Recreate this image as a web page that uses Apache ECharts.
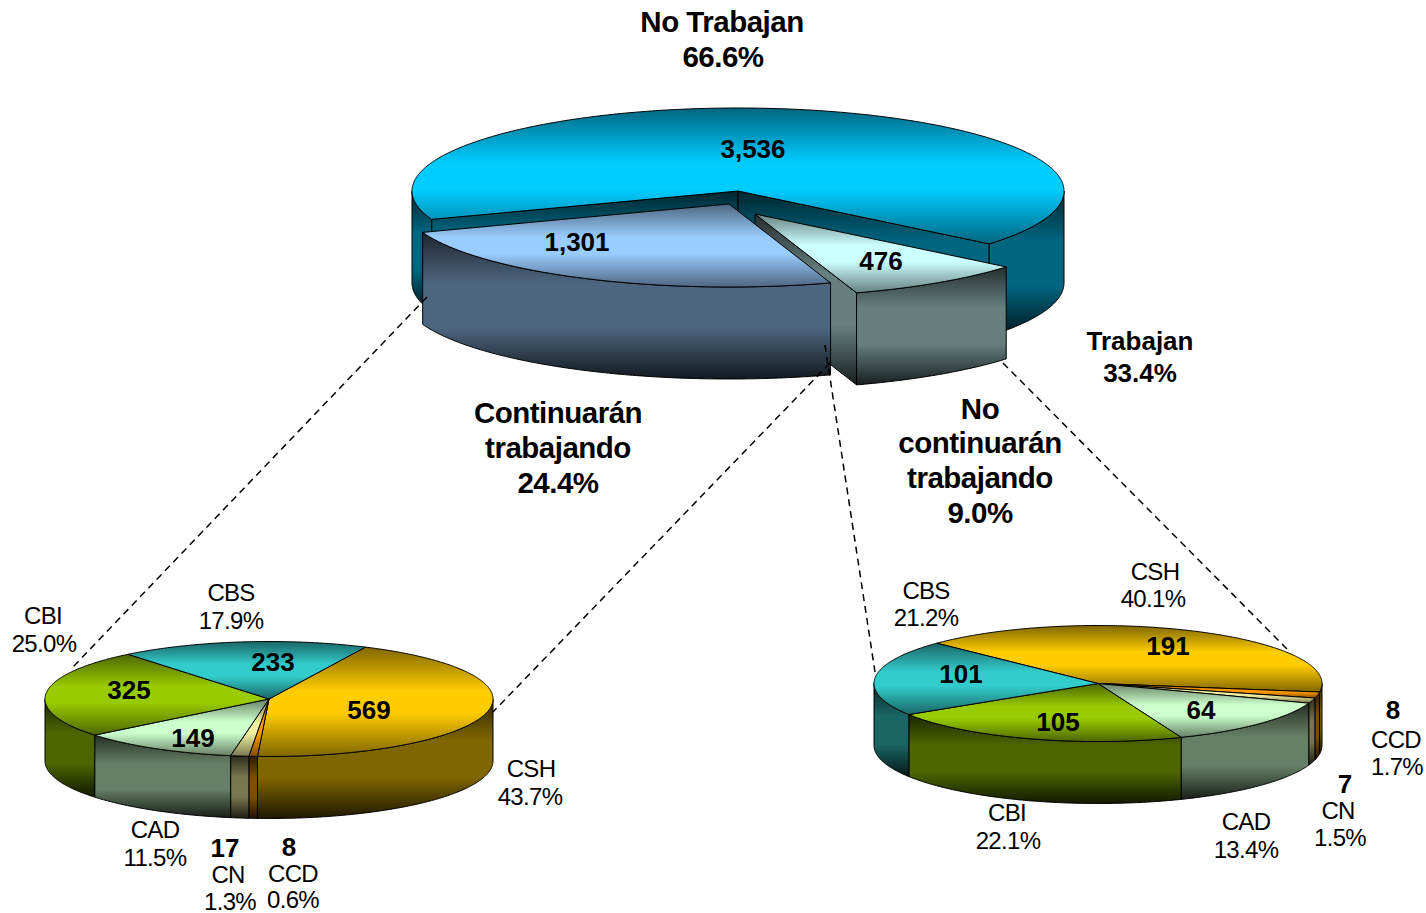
<!DOCTYPE html>
<html>
<head>
<meta charset="utf-8">
<style>
html,body{margin:0;padding:0;background:#fff}
#c{width:1426px;height:913px}
svg text{letter-spacing:-.7px}
svg text[style*="bold"]{letter-spacing:0}
svg text[style*="29.5px"]{letter-spacing:-.5px}
</style>
<script src="https://cdn.jsdelivr.net/npm/echarts@6/dist/echarts.min.js"></script>
</head>
<body>
<div id="c"></div>
<script>
// ---- data ----
const mainCategories = ['No Trabajan', 'No continuarán trabajando', 'Continuarán trabajando'];
const mainValues = [3536, 476, 1301];
const mainPercents = ['66.6%', '9.0%', '24.4%'];
const trabajanLabel = 'Trabajan';
const trabajanPercent = '33.4%';

const leftCategories = ['CSH', 'CCD', 'CN', 'CAD', 'CBI', 'CBS'];
const leftValues = [569, 8, 17, 149, 325, 233];
const leftPercents = ['43.7%', '0.6%', '1.3%', '11.5%', '25.0%', '17.9%'];

const rightCategories = ['CSH', 'CCD', 'CN', 'CAD', 'CBI', 'CBS'];
const rightValues = [191, 8, 7, 64, 105, 101];
const rightPercents = ['40.1%', '1.7%', '1.5%', '13.4%', '22.1%', '21.2%'];

// ---- styles and layout ----
const FONT = '"Liberation Sans", Arial, sans-serif';
const mainColors = ['#00CCFF', '#CCFFFF', '#99CCFF'];
const subColors = ['#FFCC00', '#FF9900', '#F0F0A0', '#CCFFCC', '#99CC00', '#33CCCC'];

const mainLabelPos = [
  {value: [753, 149], head: [[722, 22], [723, 57]], lines: ['No Trabajan']},
  {value: [881, 261], head: [[980, 409], [980, 443], [980, 478], [980, 513]], lines: ['No', 'continuarán', 'trabajando']},
  {value: [577, 242], head: [[558, 413], [558, 448], [558, 483]], lines: ['Continuarán', 'trabajando']}
];
const leftLabelPos = [
  {value: [369, 710], name: [531, 769], pct: [530, 797]},
  {bold: [289, 847], name: [293, 874], pct: [293, 900]},
  {bold: [225, 848], name: [228, 875], pct: [230, 902]},
  {value: [193, 738], name: [155, 830], pct: [155, 858]},
  {value: [129, 690], name: [43, 616], pct: [44, 644]},
  {value: [273, 662], name: [231, 593], pct: [231, 621]}
];
const rightLabelPos = [
  {value: [1168, 646], name: [1155, 572], pct: [1153, 599]},
  {bold: [1393, 710], name: [1396, 740], pct: [1397, 767]},
  {bold: [1345, 784], name: [1338, 811], pct: [1340, 838]},
  {value: [1201, 710], name: [1246, 822], pct: [1246, 850]},
  {value: [1058, 722], name: [1007, 813], pct: [1008, 841]},
  {value: [961, 674], name: [926, 591], pct: [926, 618]}
];
const connectors = [
  [[427, 297], [72, 668]],
  [[830, 363], [493, 712]],
  [[825, 345], [875, 672]],
  [[1003, 363], [1290, 652]]
];

const pies = {
  main: {cx: 738, cy: 191, rx: 326, ry: 83, depth: 92, start: 160, values: mainValues, colors: mainColors,
         offsets: [[0, 0], [17, 23], [-9, 13]], order: [0, 1, 2], walls: true},
  left: {cx: 269, cy: 699, rx: 224, ry: 57.5, depth: 62, start: -64.5, values: leftValues, colors: subColors,
         offsets: null, order: [0, 0, 0, 0, 0, 0], walls: false},
  right: {cx: 1098, cy: 683.5, rx: 224, ry: 58, depth: 62, start: -136, values: rightValues, colors: subColors,
         offsets: null, order: [0, 0, 0, 0, 0, 0], walls: false}
};

// ---- helpers ----
function shade(hex, k) {
  const n = parseInt(hex.slice(1), 16);
  const c = [n >> 16 & 255, n >> 8 & 255, n & 255].map(v => Math.round(v * k));
  return 'rgb(' + c.join(',') + ')';
}
function topFill(c) {
  return new echarts.graphic.LinearGradient(0, 0, 0, 1, [
    {offset: 0, color: shade(c, .5)}, {offset: .4, color: c}, {offset: .6, color: c}, {offset: 1, color: shade(c, .5)}
  ]);
}
function sideFill(c) {
  return new echarts.graphic.LinearGradient(0, 0, 0, 1, [
    {offset: 0, color: shade(c, .18)}, {offset: .35, color: shade(c, .5)},
    {offset: .65, color: shade(c, .5)}, {offset: 1, color: shade(c, .12)}
  ]);
}
function pt(p, ox, oy, deg, dy) {
  const a = deg * Math.PI / 180;
  return [p.cx + ox + p.rx * Math.cos(a), p.cy + oy + p.ry * Math.sin(a) + (dy || 0)];
}
function arc(p, ox, oy, a0, a1, dy) {
  const n = Math.max(2, Math.ceil(Math.abs(a1 - a0) * 2));
  const out = [];
  for (let i = 0; i <= n; i++) out.push(pt(p, ox, oy, a0 + (a1 - a0) * i / n, dy));
  return out;
}
function poly(points, fill, z2) {
  return {type: 'polygon', silent: true, z2: z2, shape: {points: points},
          style: {fill: fill, stroke: '#000', lineWidth: 1, lineJoin: 'round'}};
}
function txt(text, pos, bold, size) {
  return {type: 'text', silent: true, z2: 1000, x: pos[0], y: pos[1] - (size === 26 ? 0 : 1),
          style: {text: text, fill: '#000', textAlign: 'center', textVerticalAlign: 'middle',
                  font: (bold ? 'bold ' : '') + size + 'px ' + FONT}};
}
function sliceRange(p, i) {
  const total = p.values.reduce((s, v) => s + v, 0);
  let before = 0;
  for (let k = 0; k < i; k++) before += p.values[k];
  return [p.start + before / total * 360, p.start + (before + p.values[i]) / total * 360];
}
function sliceShapes(p, i) {
  const [a0, a1] = sliceRange(p, i);
  const off = p.offsets ? p.offsets[i] : [0, 0];
  const c = p.colors[i], base = p.order[i] * 10, kids = [];
  const centre = [p.cx + off[0], p.cy + off[1]];
  // radial cut faces that look towards the viewer
  if (p.walls) {
    [[a0, a0 - 90], [a1, a1 + 90]].forEach(w => {
      if (Math.sin(w[1] * Math.PI / 180) > 0) {
        const e = pt(p, off[0], off[1], w[0]);
        kids.push(poly([centre, e, [e[0], e[1] + p.depth], [centre[0], centre[1] + p.depth]], sideFill(c), base));
      }
    });
  }
  // outer rim, front half only
  for (let k = -1; k <= 1; k++) {
    const s = Math.max(a0, 360 * k), e = Math.min(a1, 180 + 360 * k);
    if (e > s) {
      const upper = arc(p, off[0], off[1], s, e, 0);
      const lower = arc(p, off[0], off[1], e, s, p.depth);
      kids.push(poly(upper.concat(lower), sideFill(c), base + 1));
    }
  }
  // top face
  kids.push(poly([centre].concat(arc(p, off[0], off[1], a0, a1, 0)), topFill(c), base + 2));
  return kids;
}

function renderMain(params, api) {
  const i = params.dataIndex, L = mainLabelPos[i];
  const v = api.value(0);
  const kids = sliceShapes(pies.main, i);
  kids.push(txt(v.toLocaleString('en-US'), L.value, true, 26));
  L.lines.forEach((s, k) => kids.push(txt(s, L.head[k], true, 29.5)));
  kids.push(txt(mainPercents[i], L.head[L.lines.length], true, 29.5));
  return {type: 'group', children: kids};
}
function renderSub(pieKey, cats, pcts, pos) {
  return function (params, api) {
    const i = params.dataIndex, L = pos[i];
    const v = api.value(0);
    const kids = sliceShapes(pies[pieKey], i);
    kids.push(txt(String(v), L.value || L.bold, true, 26));
    kids.push(txt(cats[i], L.name, false, 24));
    kids.push(txt(pcts[i], L.pct, false, 24));
    return {type: 'group', children: kids};
  };
}

const chart = echarts.init(document.getElementById('c'), null, {renderer: 'svg', width: 1426, height: 913});
chart.setOption({
  backgroundColor: '#fff',
  animation: false,
  tooltip: {show: false},
  graphic: {
    elements: connectors.map(l => ({
      type: 'line', silent: true, z: 100,
      shape: {x1: l[0][0], y1: l[0][1], x2: l[1][0], y2: l[1][1]},
      style: {stroke: '#000', lineWidth: 1.5, lineDash: [7, 5]}
    })).concat([
      {type: 'text', silent: true, z: 100, x: 1140, y: 341,
       style: {text: trabajanLabel, fill: '#000', textAlign: 'center', textVerticalAlign: 'middle', font: 'bold 26px ' + FONT}},
      {type: 'text', silent: true, z: 100, x: 1140, y: 373,
       style: {text: trabajanPercent, fill: '#000', textAlign: 'center', textVerticalAlign: 'middle', font: 'bold 26px ' + FONT}}
    ])
  },
  series: [
    {type: 'custom', coordinateSystem: 'none', name: 'main', renderItem: renderMain, data: mainValues.map((v, i) => ({name: mainCategories[i], value: [v]}))},
    {type: 'custom', coordinateSystem: 'none', name: 'left', renderItem: renderSub('left', leftCategories, leftPercents, leftLabelPos), data: leftValues.map((v, i) => ({name: leftCategories[i], value: [v]}))},
    {type: 'custom', coordinateSystem: 'none', name: 'right', renderItem: renderSub('right', rightCategories, rightPercents, rightLabelPos), data: rightValues.map((v, i) => ({name: rightCategories[i], value: [v]}))}
  ]
});
</script>
</body>
</html>
